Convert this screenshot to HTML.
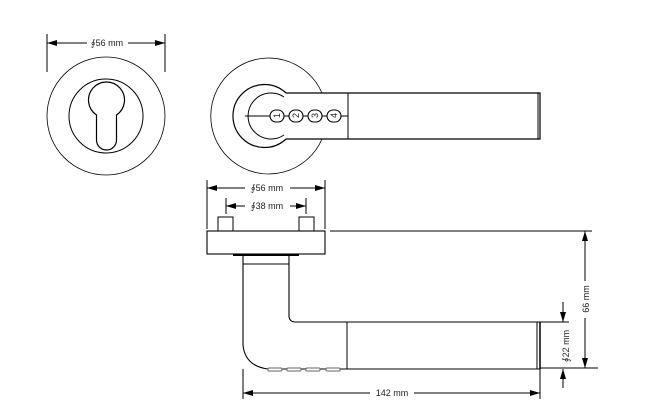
<!DOCTYPE html>
<html><head><style>
html,body{margin:0;padding:0;background:#fff;}
svg{display:block;}
text{font-family:"Liberation Sans",sans-serif;font-size:9px;fill:#222;}
</style></head><body>
<svg width="665" height="410" viewBox="0 0 665 410" xmlns="http://www.w3.org/2000/svg">
<defs>
<marker id="a" viewBox="0 0 10 6" refX="10" refY="3" markerWidth="10" markerHeight="6" orient="auto-start-reverse" markerUnits="userSpaceOnUse"><path d="M0,0 L10,3 L0,6 z" fill="#000"/></marker>
</defs>
<g fill="none" stroke="#000" stroke-width="1">
<!-- left rosette -->
<circle cx="106" cy="116" r="59" stroke-width="0.8"/>
<circle cx="106" cy="116" r="37"/>
<path d="M96.5,115 A18,18 0 1 1 116.5,115 L116.5,140 A10,10 0 0 1 96.5,140 Z" stroke-width="1.2"/>
<!-- top dim 56 -->
<line x1="47" y1="34" x2="47" y2="72"/>
<line x1="165" y1="34" x2="165" y2="72"/>
<line x1="47" y1="43" x2="87" y2="43" marker-start="url(#a)"/>
<line x1="128" y1="43" x2="165" y2="43" marker-end="url(#a)"/>
<!-- second rosette -->
<path d="M322,93 A58,58 0 1 0 322,139" stroke-width="0.8"/>
<path d="M286,93 L540,93 L540,139 L286,139" stroke-width="1.2"/>
<path d="M286,93 A31.5,31.5 0 1 0 286,139" stroke-width="1.2"/>
<path d="M284,97 A23,23 0 1 0 284,135" stroke-width="1"/>
<line x1="348" y1="93" x2="348" y2="139"/>
<line x1="538" y1="93" x2="538" y2="139"/>
<line x1="245" y1="116" x2="348" y2="116"/>
<g fill="#fff" stroke-width="1.1">
<rect x="270" y="110" width="14" height="12" rx="6"/>
<rect x="289" y="110" width="14" height="12" rx="6"/>
<rect x="308" y="110" width="14" height="12" rx="6"/>
<rect x="327" y="110" width="14" height="12" rx="6"/>
</g>
<!-- dims 56 / 38 -->
<line x1="207" y1="180" x2="207" y2="229"/>
<line x1="325" y1="180" x2="325" y2="229"/>
<line x1="207" y1="188" x2="245" y2="188" marker-start="url(#a)"/>
<line x1="290" y1="188" x2="325" y2="188" marker-end="url(#a)"/>
<line x1="226" y1="198" x2="226" y2="214"/>
<line x1="306" y1="198" x2="306" y2="214"/>
<line x1="226" y1="206" x2="245" y2="206" marker-start="url(#a)"/>
<line x1="290" y1="206" x2="306" y2="206" marker-end="url(#a)"/>
<!-- side view -->
<rect x="218" y="217" width="15" height="14"/>
<rect x="299" y="217" width="15" height="14"/>
<rect x="207" y="231" width="118" height="23" stroke-width="1.1"/>
<line x1="233" y1="255" x2="299" y2="255" stroke-width="2"/>
<line x1="243" y1="264" x2="289" y2="264"/>
<path d="M243,255 L243,345 Q245,366 268,369 L540,369" stroke-width="1.1"/>
<path d="M289,255 L289,317 Q290,322 295,322 L540,322" stroke-width="1.1"/>
<line x1="347" y1="322" x2="347" y2="369"/>
<line x1="537" y1="322" x2="537" y2="369"/>
<line x1="540" y1="322" x2="540" y2="369" stroke-width="1.5"/>
<g stroke="#666" fill="#fff">
<rect x="268" y="368" width="14" height="3" rx="1"/>
<rect x="287" y="368" width="14" height="3" rx="1"/>
<rect x="306" y="368" width="14" height="3" rx="1"/>
<rect x="326" y="368" width="14" height="3" rx="1"/>
</g>
<!-- 66 dim -->
<line x1="330" y1="231" x2="592" y2="231"/>
<line x1="540" y1="368" x2="598" y2="368"/>
<line x1="585" y1="231" x2="585" y2="281" marker-start="url(#a)"/>
<line x1="585" y1="318" x2="585" y2="368" marker-end="url(#a)"/>
<!-- 22 dim -->
<line x1="540" y1="322" x2="569" y2="322"/>
<line x1="563" y1="302" x2="563" y2="322" marker-end="url(#a)"/>
<line x1="563" y1="388" x2="563" y2="369" marker-end="url(#a)"/>
<!-- 142 dim -->
<line x1="243" y1="369" x2="243" y2="399"/>
<line x1="540" y1="369" x2="540" y2="399"/>
<line x1="243" y1="393" x2="370" y2="393" marker-start="url(#a)"/>
<line x1="414" y1="393" x2="540" y2="393" marker-end="url(#a)"/>
</g>
<g>
<text x="277.5" y="119" text-anchor="middle" font-size="7" transform="rotate(-90 277 116)">1</text>
<text x="296.5" y="119" text-anchor="middle" font-size="7" transform="rotate(-90 296 116)">2</text>
<text x="315.5" y="119" text-anchor="middle" font-size="7" transform="rotate(-90 315 116)">3</text>
<text x="334.5" y="119" text-anchor="middle" font-size="7" transform="rotate(-90 334 116)">4</text>
</g>
<text x="107" y="46" text-anchor="middle">∮56 mm</text>
<text x="267" y="191" text-anchor="middle">∮56 mm</text>
<text x="267" y="209" text-anchor="middle">∮38 mm</text>
<text x="392" y="396" text-anchor="middle">142 mm</text>
<text x="0" y="0" text-anchor="middle" transform="translate(589 299) rotate(-90)">66 mm</text>
<text x="0" y="0" text-anchor="middle" transform="translate(569 346) rotate(-90)">∮22 mm</text>
</svg>
</body></html>
